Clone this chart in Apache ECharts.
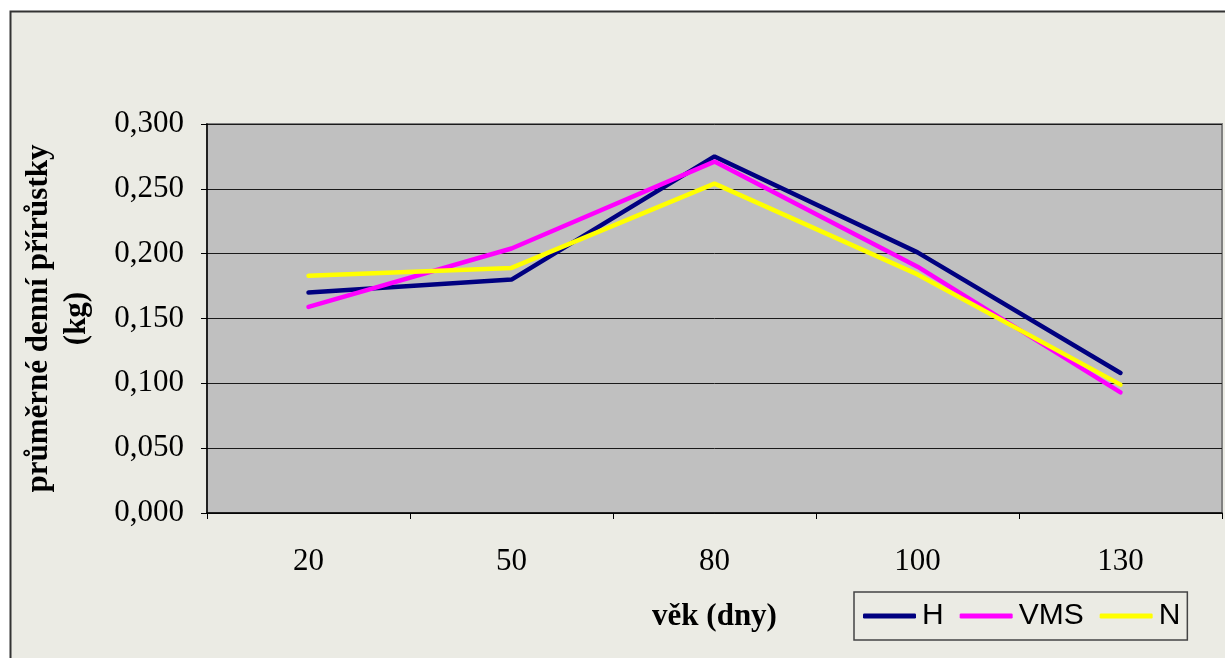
<!DOCTYPE html>
<html>
<head>
<meta charset="utf-8">
<script src="https://cdn.jsdelivr.net/npm/echarts@6/dist/echarts.min.js"></script>
<style>
  html, body { margin: 0; padding: 0; background: #ffffff; }
  #main { width: 1225px; height: 658px; }
</style>
</head>
<body>
<div id="main"></div>
<script>
// věk (dny)
var categories = ['20', '50', '80', '100', '130'];
var seriesNames = ['H', 'VMS', 'N'];
var valuesH = [0.170, 0.180, 0.275, 0.201, 0.108];
var valuesVMS = [0.159, 0.204, 0.271, 0.190, 0.093];
var valuesN = [0.183, 0.189, 0.254, 0.184, 0.099];
var colors = ['#000080', '#FF00FF', '#FFFF00'];

var serif = '"Liberation Serif", "Times New Roman", serif';
var sans = '"Liberation Sans", Arial, sans-serif';

var myChart = echarts.init(document.getElementById('main'));

function lineSeries(name, data, color) {
	return {
		name: name,
		type: 'line',
		data: data,
		symbol: 'none',
		smooth: false,
		lineStyle: { color: color, width: 4.5, cap: 'round' },
		itemStyle: { color: color }
	};
}

var option = {
	backgroundColor: '#ffffff',
	animation: false,
	// ramecek grafu
	graphic: [{
		type: 'rect',
		z: -10,
		shape: { x: 10.5, y: 11.5, width: 1300, height: 700 },
		style: { fill: '#EBEBE4', stroke: '#333333', lineWidth: 2 }
	}],
	grid: {
		left: 207, right: 3, top: 124, bottom: 145,
		outerBoundsMode: 'none',
		containLabel: false,
		show: true,
		backgroundColor: '#C0C0C0',
		borderColor: '#808080',
		borderWidth: 2
	},
	legend: {
		data: seriesNames,
		left: 854, top: 592,
		padding: [9, 7, 9, 9],
		itemGap: 16,
		itemWidth: 53,
		itemHeight: 5,
		icon: 'roundRect',
		backgroundColor: '#EBEBE4',
		borderColor: '#444444',
		borderWidth: 1.5,
		borderRadius: 0,
		textStyle: { fontFamily: sans, fontSize: 30, color: '#000000', padding: [0, 0, 0, 1] }
	},
	xAxis: {
		type: 'category',
		data: categories,
		boundaryGap: true,
		name: 'věk (dny)',
		nameLocation: 'middle',
		nameGap: 88,
		nameTextStyle: { fontFamily: serif, fontSize: 31, fontWeight: 'bold', color: '#000000' },
		axisLine: { lineStyle: { color: '#000000', width: 1.5 } },
		axisTick: { show: true, length: 6, alignWithLabel: false, lineStyle: { color: '#000000' } },
		axisLabel: { margin: 33, fontFamily: serif, fontSize: 31, color: '#000000' },
		splitLine: { show: false }
	},
	yAxis: {
		type: 'value',
		min: 0, max: 0.3, interval: 0.05,
		name: 'průměrné denní přírůstky\n(kg)',
		nameLocation: 'middle',
		nameGap: 111,
		nameTextStyle: { fontFamily: serif, fontSize: 31, fontWeight: 'bold', color: '#000000', lineHeight: 38 },
		axisLine: { show: true, lineStyle: { color: '#000000', width: 1.5 } },
		axisTick: { show: true, length: 6, lineStyle: { color: '#000000' } },
		axisLabel: {
			margin: 23, fontFamily: serif, fontSize: 31, color: '#000000',
			formatter: function (v) { return v.toFixed(3).replace('.', ','); }
		},
		splitLine: { show: true, lineStyle: { color: '#1a1a1a', width: 1 } }
	},
	series: [
		lineSeries(seriesNames[0], valuesH, colors[0]),
		lineSeries(seriesNames[1], valuesVMS, colors[1]),
		lineSeries(seriesNames[2], valuesN, colors[2])
	]
};

myChart.setOption(option);
</script>
</body>
</html>
